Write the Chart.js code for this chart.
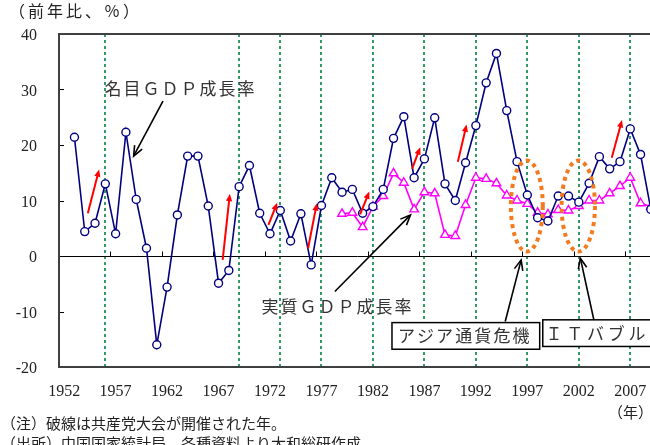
<!DOCTYPE html>
<html>
<head>
<meta charset="utf-8">
<script src="https://cdn.jsdelivr.net/npm/chart.js@4.4.1/dist/chart.umd.min.js"></script>
<style>
  html, body { margin: 0; padding: 0; overflow: hidden; background: #fff; }
  canvas { display: block; }
</style>
</head>
<body>
<canvas id="gdpChart" width="670" height="445"></canvas>
<script>
// categories (years)
const years = ['1952','1953','1954','1955','1956','1957','1958','1959','1960','1961',
  '1962','1963','1964','1965','1966','1967','1968','1969','1970','1971',
  '1972','1973','1974','1975','1976','1977','1978','1979','1980','1981',
  '1982','1983','1984','1985','1986','1987','1988','1989','1990','1991',
  '1992','1993','1994','1995','1996','1997','1998','1999','2000','2001',
  '2002','2003','2004','2005','2006','2007','2008','2009'];

// nominal GDP growth, 1952..2009 (%)
const nominalGrowth = [null, 21.4, 4.4, 5.9, 13.0, 4.0, 22.3, 10.2, 1.4, -16.0,
  -5.6, 7.4, 18.0, 18.0, 9.0, -4.9, -2.6, 12.5, 16.3, 7.7,
  4.0, 8.2, 2.7, 7.6, -1.6, 9.1, 14.1, 11.5, 12.0, 7.7,
  8.9, 12.0, 21.2, 25.1, 14.1, 17.5, 24.9, 13.0, 10.0, 16.8,
  23.5, 31.2, 36.5, 26.2, 17.0, 11.0, 6.9, 6.3, 10.8, 10.8,
  9.7, 13.1, 17.9, 15.7, 17.0, 22.9, 18.3, 8.4];

// real GDP growth, from 1979 (%)
const realStart = '1979';
const realGrowth = [7.6, 7.8, 5.2, 8.9, 10.8, 14.9, 13.2, 8.4, 11.5, 11.3,
  3.8, 3.6, 9.2, 14.1, 13.9, 13.1, 10.9, 10.0, 9.4, 7.8,
  7.5, 8.3, 8.2, 9.0, 10.0, 10.0, 11.3, 12.6, 14.1, 9.5, 8.9];

// party congress years (dashed lines)
const congressYears = ['1956','1969','1973','1977','1982','1987','1992','1997','2002','2007'];

const yTicks = [-20, -10, 0, 10, 20, 30, 40];

const SERIF = '"Liberation Serif", "Noto Sans CJK JP", serif';
const JP = '"Noto Sans CJK JP", sans-serif';

const realPadded = years.map((yr, i) => {
  const k = i - years.indexOf(realStart);
  return k >= 0 && k < realGrowth.length ? realGrowth[k] : null;
});

// annotation shapes, in (year, value) units
const redArrows = [
  [1954.3, 7.7, 1955.4, 15.6], [1967.4, -0.7, 1968.1, 11.2],
  [1971.85, 5.6, 1972.7, 9.6], [1975.7, 1.4, 1976.55, 9.5],
  [1980.75, 7.5, 1981.65, 11.6], [1985.8, 15.7, 1986.6, 19.6],
  [1990.25, 17.0, 1991.1, 23.7], [2005.2, 17.7, 2006.2, 24.5]
];
const blackArrows = [
  [1961.6, 27.9, 1958.75, 18.0], [1978.3, -6.4, 1985.65, 7.4],
  [1994.85, -11.8, 1996.4, -0.7], [2003.45, -11.4, 2002.15, -0.4]
];
const ovals = [[1996.95, 9.0, 1.55, 8.2], [2001.95, 9.0, 1.62, 8.2]];

function drawArrow(ctx, x1, y1, x2, y2, head, filled) {
  const ang = Math.atan2(y2 - y1, x2 - x1);
  ctx.beginPath();
  ctx.moveTo(x1, y1);
  ctx.lineTo(x2 - Math.cos(ang) * (filled ? head * 0.8 : 1), y2 - Math.sin(ang) * (filled ? head * 0.8 : 1));
  ctx.stroke();
  const a1 = ang + Math.PI - 0.4, a2 = ang + Math.PI + 0.4;
  ctx.beginPath();
  ctx.moveTo(x2 + Math.cos(a1) * head, y2 + Math.sin(a1) * head);
  ctx.lineTo(x2, y2);
  ctx.lineTo(x2 + Math.cos(a2) * head, y2 + Math.sin(a2) * head);
  if (filled) { ctx.closePath(); ctx.fill(); } else { ctx.stroke(); }
}

function spacedText(ctx, text, x0, y, pitch) {
  [...text].forEach((ch, i) => ctx.fillText(ch, x0 + i * pitch, y));
}

const overlay = {
  id: 'overlay',
  beforeDatasetsDraw(chart) {
    const { ctx, chartArea: a, scales: { x, y } } = chart;
    ctx.save();
    // congress lines
    ctx.strokeStyle = '#339966';
    ctx.lineWidth = 2;
    ctx.setLineDash([3, 3]);
    congressYears.forEach(yr => {
      const px = Math.round(x.getPixelForValue(years.indexOf(yr)));
      ctx.beginPath();
      ctx.moveTo(px, a.top);
      ctx.lineTo(px, a.bottom);
      ctx.stroke();
    });
    ctx.setLineDash([]);
    // zero line and its ticks
    const y0 = Math.round(y.getPixelForValue(0)) + 0.5;
    ctx.strokeStyle = '#000';
    ctx.lineWidth = 1;
    ctx.beginPath();
    ctx.moveTo(a.left, y0);
    ctx.lineTo(a.right, y0);
    years.forEach((yr, i) => {
      if (i > 0 && i % 5 === 0) {
        const px = Math.round(x.getPixelForValue(i - 0.5)) + 0.5;
        ctx.moveTo(px, y0);
        ctx.lineTo(px, y0 - 5);
      }
    });
    // y ticks inside
    yTicks.forEach(v => {
      const py = Math.round(y.getPixelForValue(v)) + 0.5;
      ctx.moveTo(a.left, py);
      ctx.lineTo(a.left + 5, py);
    });
    ctx.stroke();
    ctx.restore();
  },
  afterDatasetsDraw(chart) {
    const { ctx, chartArea: a, scales: { x, y } } = chart;
    const X = yr => x.getPixelForValue(yr - 1952);
    const Y = v => y.getPixelForValue(v);
    ctx.save();
    // orange dotted ovals
    ctx.strokeStyle = '#f47a1f';
    ctx.lineWidth = 4;
    ctx.setLineDash([4, 4]);
    ovals.forEach(([cx, cy, rx, ry]) => {
      const pcx = X(cx), pcy = Y(cy);
      ctx.beginPath();
      ctx.ellipse(pcx, pcy, X(cx + rx) - pcx, pcy - Y(cy + ry), 0, 0, Math.PI * 2);
      ctx.stroke();
    });
    ctx.setLineDash([]);
    // red arrows
    ctx.strokeStyle = '#ff0000';
    ctx.fillStyle = '#ff0000';
    ctx.lineWidth = 2;
    redArrows.forEach(([x1, y1, x2, y2]) => drawArrow(ctx, X(x1), Y(y1), X(x2), Y(y2), 8, true));
    // black arrows
    ctx.strokeStyle = '#000';
    ctx.lineWidth = 1.6;
    blackArrows.forEach(([x1, y1, x2, y2]) => drawArrow(ctx, X(x1), Y(y1), X(x2), Y(y2), 11, false));

    // boxes
    const boxes = [
      { l: 1983.85, r: 1998.2, t: -12.0, b: -16.8, text: 'アジア通貨危機', start: 1985.25, pitch: 19.1, v: -14.3 },
      { l: 1998.5, r: 2011, t: -11.5, b: -16.3, text: 'ＩＴバブル', start: 1999.6, pitch: 20.7, v: -13.9 }
    ];
    ctx.lineWidth = 1.5;
    ctx.font = '17px ' + JP;
    ctx.textAlign = 'center';
    ctx.textBaseline = 'middle';
    boxes.forEach(bx => {
      const l = X(bx.l), r = X(bx.r), t = Y(bx.t), b = Y(bx.b);
      ctx.fillStyle = '#fff';
      ctx.fillRect(l, t, r - l, b - t);
      ctx.strokeRect(l, t, r - l, b - t);
      ctx.fillStyle = '#333';
      spacedText(ctx, bx.text, X(bx.start), Y(bx.v), bx.pitch);
    });
    // series labels
    ctx.fillStyle = '#333';
    ctx.font = '17px ' + JP;
    spacedText(ctx, '名目ＧＤＰ成長率', X(1956.75), Y(30.1), 19);
    spacedText(ctx, '実質ＧＤＰ成長率', X(1972.0), Y(-9.1), 19);
    ctx.restore();
  },
  afterDraw(chart) {
    const { ctx, chartArea: a, scales: { x } } = chart;
    ctx.save();
    // plot frame
    ctx.strokeStyle = '#404040';
    ctx.lineWidth = 2;
    ctx.strokeRect(a.left, a.top, a.right - a.left, a.bottom - a.top);
    // category labels every 5 years
    ctx.fillStyle = '#222';
    ctx.textBaseline = 'middle';
    ctx.textAlign = 'center';
    ctx.font = '16px ' + SERIF;
    years.forEach((yr, i) => {
      if (i % 5 === 0) ctx.fillText(yr, x.getPixelForValue(i), a.bottom + 25);
    });
    // titles and notes
    ctx.font = '16px ' + JP;
    spacedText(ctx, '（前年比、％）', 17, 11, 19);
    ctx.textAlign = 'left';
    ctx.font = '15px ' + JP;
    ctx.fillText('（年）', 608, 412);
    ctx.fillText('（注）破線は共産党大会が開催された年。', 1, 423);
    ctx.fillText('（出所）中国国家統計局、各種資料より大和総研作成', 1, 443);
    ctx.restore();
  }
};

new Chart(document.getElementById('gdpChart'), {
  type: 'line',
  data: {
    labels: years,
    datasets: [
      {
        label: '名目GDP成長率',
        data: nominalGrowth,
        borderColor: '#000080',
        borderWidth: 1.6,
        pointStyle: 'circle',
        pointRadius: 4,
        pointBorderWidth: 1.4,
        pointBackgroundColor: '#fff',
        pointBorderColor: '#000080',
        tension: 0
      },
      {
        label: '実質GDP成長率',
        data: realPadded,
        borderColor: '#ff00ff',
        borderWidth: 1.6,
        pointStyle: 'triangle',
        pointRadius: 5,
        pointBorderWidth: 1.4,
        pointBackgroundColor: '#fff',
        pointBorderColor: '#ff00ff',
        tension: 0
      }
    ]
  },
  options: {
    responsive: false,
    animation: false,
    events: [],
    layout: { padding: { top: 34, right: 14, left: 0, bottom: 78 } },
    plugins: {
      legend: { display: false },
      tooltip: { enabled: false }
    },
    scales: {
      x: {
        offset: true,
        grid: { display: false, drawTicks: false },
        border: { display: false },
        ticks: { display: false }
      },
      y: {
        min: -20,
        max: 40,
        grid: { display: false, drawTicks: false },
        border: { display: false },
        ticks: {
          stepSize: 10,
          padding: 22,
          labelOffset: 2,
          color: '#222',
          font: { family: SERIF, size: 16 }
        },
        afterFit: s => { s.width = 59; }
      }
    }
  },
  plugins: [overlay]
});
</script>
</body>
</html>
